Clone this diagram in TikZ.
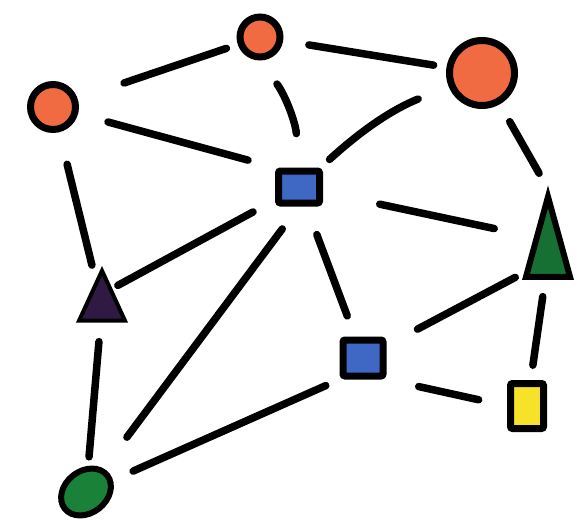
\documentclass[tikz,border=0pt]{standalone}
\usepackage{xcolor}
\usepackage{tikz}
\usetikzlibrary{shapes.geometric, positioning}

\definecolor{peach}{RGB}{240,106,66}
\definecolor{inkblue}{RGB}{62,104,196}
\definecolor{leaf}{RGB}{22,112,52}
\definecolor{plum}{RGB}{48,26,68}
\definecolor{lemon}{RGB}{246,226,40}
\definecolor{moss}{RGB}{26,130,56}

\begin{document}
\begin{tikzpicture}[x=1pt, y=-1pt,
    link/.style={line width=7.5pt, line cap=round},
    dot/.style={circle, draw, line width=7pt, fill=peach, inner sep=0pt},
    box/.style={rectangle, draw, line width=7pt, rounded corners=2pt, inner sep=0pt},
    tri/.style={isosceles triangle, shape border rotate=90, isosceles triangle stretches,
                draw, line width=6pt, inner sep=0pt}]
        \useasboundingbox (0,0) rectangle (577,524);

        % circles on top
        \node[dot, minimum size=45pt] (left) at (53,107) {};
        \node[dot, minimum size=40pt] (top) at (260,37) {};
        \node[dot, minimum size=65pt] (right) at (482,73) {};

        % squares
        \node[box, fill=inkblue, minimum width=41pt, minimum height=32pt] (mid) at (299,187) {};
        \node[box, fill=inkblue, minimum width=40pt, minimum height=36pt] (low) at (363,358) {};
        \node[box, fill=lemon, minimum width=33pt, minimum height=45pt] (corner) at (527,406) {};

        % triangles and the ellipse
        \node[tri, fill=leaf, minimum width=44pt, minimum height=80pt] (east) at (548,260) {};
        \node[tri, fill=plum, line width=4pt, minimum width=46pt, minimum height=50pt] (west) at (102,306) {};
        \node[ellipse, draw, line width=6pt, fill=moss, minimum width=54pt, minimum height=42pt,
              inner sep=0pt, rotate=38] (base) at (86,492) {};

        \draw[link, shorten <=49pt, shorten >=12pt] (left) -- (top);
        \draw[link, shorten <=26pt, shorten >=13pt] (top) -- (right);
        \draw[link, shorten <=31pt, shorten >=28pt] (left) -- (mid.north west);
        \draw[link, shorten <=29pt, shorten >=34pt] (top.south) to[bend left=16] (mid);
        \draw[link, shorten <=33pt, shorten >=12pt] (right) to[bend right=10] (mid);
        \draw[link, shorten <=20pt, shorten >=18pt] (right) -- (east.apex);
        \draw[link, shorten <=33pt, shorten >=15pt] (left) -- (west);
        \draw[link, shorten <=25pt, shorten >=18pt] (mid) -- ([yshift=12pt]west.center);
        \draw[link, shorten <=58pt, shorten >=55pt] (mid) -- ([yshift=20pt]east.center);
        \draw[link, shorten <=30pt, shorten >=22pt] (mid) -- (low);
        \draw[link, shorten <=28pt, shorten >=39pt] (mid.south) -- (base);
        \draw[link, shorten <=10pt, shorten >=35pt] (east) -- (low);
        \draw[link, shorten <=17pt, shorten >=15pt] (east) -- (corner);
        \draw[link, shorten <=33pt, shorten >=29pt] (low.south east) -- (corner.west);
        \draw[link, shorten <=15pt, shorten >=22pt] (low.south west) -- (base);
        \draw[link, shorten <=19pt, shorten >=9pt] (west) -- (base);
\end{tikzpicture}
\end{document}
